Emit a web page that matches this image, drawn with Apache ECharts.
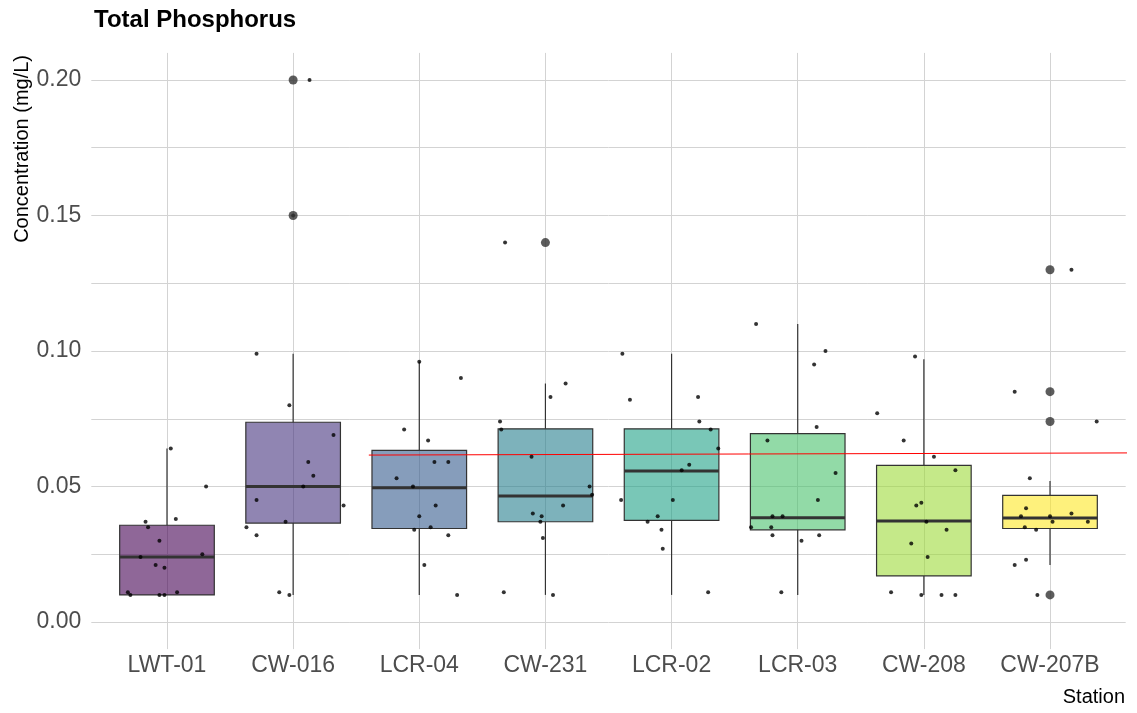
<!DOCTYPE html>
<html>
<head>
<meta charset="utf-8">
<script src="https://cdn.jsdelivr.net/npm/echarts@6/dist/echarts.min.js"></script>
<style>
  html, body { margin: 0; padding: 0; background: #fff; }
  #chart { width: 1137px; height: 713px; }
</style>
</head>
<body>
<div id="chart"></div>
<script>
// stations on the x axis
const stations = ["LWT-01", "CW-016", "LCR-04", "CW-231", "LCR-02", "LCR-03", "CW-208", "CW-207B"];

// box statistics (mg/L)
const boxMin = [0.010, 0.010, 0.010, 0.010, 0.010, 0.010, 0.010, 0.021];
const boxQ1 = [0.010, 0.0365, 0.0345, 0.037, 0.0375, 0.034, 0.017, 0.0345];
const boxMedian = [0.024, 0.050, 0.0495, 0.0465, 0.0557, 0.0385, 0.0373, 0.0384];
const boxQ3 = [0.0357, 0.0737, 0.0633, 0.0713, 0.0713, 0.0695, 0.0578, 0.0467];
const boxMax = [0.064, 0.099, 0.096, 0.088, 0.099, 0.110, 0.097, 0.052];

// outliers: station index and value
const outlierStation = [1, 1, 3, 7, 7, 7, 7];
const outlierValue = [0.20, 0.15, 0.14, 0.13, 0.085, 0.074, 0.010];

// jittered observations per station: [horizontal jitter, value]
const ptsLWT01 = [[0.03, 0.064], [0.31, 0.050], [0.07, 0.038], [-0.17, 0.037], [-0.15, 0.035], [-0.06, 0.030], [-0.21, 0.024], [0.28, 0.025], [-0.09, 0.021], [-0.02, 0.020], [-0.31, 0.011], [-0.29, 0.010], [-0.06, 0.010], [-0.02, 0.010], [0.08, 0.011]];
const ptsCW016 = [[0.13, 0.200], [0.0, 0.150], [-0.29, 0.099], [-0.03, 0.080], [0.32, 0.069], [0.12, 0.059], [0.16, 0.054], [0.08, 0.050], [-0.29, 0.045], [0.40, 0.043], [-0.06, 0.037], [-0.37, 0.035], [-0.29, 0.032], [-0.11, 0.011], [-0.03, 0.010]];
const ptsLCR04 = [[0.0, 0.096], [0.33, 0.090], [-0.12, 0.071], [0.07, 0.067], [0.12, 0.059], [0.23, 0.059], [-0.18, 0.053], [-0.05, 0.050], [0.13, 0.043], [0.0, 0.039], [0.09, 0.035], [-0.04, 0.034], [0.23, 0.032], [0.04, 0.021], [0.30, 0.010]];
const ptsCW231 = [[-0.32, 0.140], [0.16, 0.088], [0.04, 0.083], [-0.36, 0.074], [-0.35, 0.071], [-0.11, 0.061], [0.35, 0.050], [0.37, 0.047], [0.14, 0.043], [-0.10, 0.040], [-0.03, 0.039], [-0.04, 0.037], [-0.02, 0.031], [-0.33, 0.011], [0.06, 0.010]];
const ptsLCR02 = [[-0.39, 0.099], [-0.33, 0.082], [0.21, 0.083], [0.22, 0.074], [0.31, 0.071], [0.37, 0.064], [0.14, 0.058], [0.08, 0.056], [-0.40, 0.045], [0.01, 0.045], [-0.11, 0.039], [-0.19, 0.037], [-0.08, 0.034], [-0.07, 0.027], [0.29, 0.011]];
const ptsLCR03 = [[-0.33, 0.110], [0.22, 0.100], [0.13, 0.095], [0.15, 0.072], [-0.24, 0.067], [0.30, 0.055], [0.16, 0.045], [-0.20, 0.039], [-0.12, 0.039], [-0.37, 0.035], [-0.21, 0.035], [-0.20, 0.032], [0.17, 0.032], [0.03, 0.030], [-0.13, 0.011]];
const ptsCW208 = [[-0.37, 0.077], [-0.07, 0.098], [-0.16, 0.067], [0.08, 0.061], [0.25, 0.056], [-0.06, 0.043], [-0.02, 0.044], [0.02, 0.037], [0.18, 0.034], [-0.10, 0.029], [0.03, 0.024], [-0.26, 0.011], [-0.02, 0.010], [0.14, 0.010], [0.25, 0.010]];
const ptsCW207B = [[0.17, 0.130], [-0.28, 0.085], [0.37, 0.074], [-0.16, 0.053], [-0.19, 0.042], [-0.23, 0.039], [0.0, 0.039], [0.17, 0.040], [-0.20, 0.035], [-0.11, 0.034], [0.02, 0.037], [0.30, 0.037], [-0.28, 0.021], [-0.19, 0.023], [-0.10, 0.010]];
const jitterPoints = [ptsLWT01, ptsCW016, ptsLCR04, ptsCW231, ptsLCR02, ptsLCR03, ptsCW208, ptsCW207B];

// red reference line (x in station units, y in mg/L)
const refLineX = [1.6, 7.69];
const refLineY = [0.0616, 0.0624];

// axis breaks
const yMajor = [0, 0.05, 0.10, 0.15, 0.20];
const yGrid = [0, 0.025, 0.05, 0.075, 0.10, 0.125, 0.15, 0.175, 0.20];

const viridis = ["#440154", "#46337E", "#365C8D", "#277F8E", "#1FA187", "#4AC16D", "#9FDA3A", "#FDE725"];
const gridColor = "#d3d3d3";
const font = "Liberation Sans";

const boxData = stations.map((s, i) => [i, boxMin[i], boxQ1[i], boxMedian[i], boxQ3[i], boxMax[i]]);
const outlierData = outlierStation.map((s, i) => [s, outlierValue[i]]);
const jitterData = [];
jitterPoints.forEach((pts, i) => {
	pts.forEach((p) => jitterData.push([i + p[0], p[1]]));
});
const refData = refLineX.map((x, i) => [x, refLineY[i]]);

const chart = echarts.init(document.getElementById("chart"), null, { renderer: "canvas" });

chart.setOption({
	animation: false,
	backgroundColor: "#fff",
	title: {
		text: "Total Phosphorus",
		left: 89,
		top: 3,
		textStyle: { fontFamily: font, fontSize: 24, fontWeight: "bold", color: "#000" },
	},
	grid: { left: 91.3, right: 11.3, top: 52.9, bottom: 63.9, containLabel: false },
	xAxis: {
		type: "value",
		min: -0.6,
		max: 7.6,
		axisLine: { show: false },
		axisTick: { show: false, customValues: [0, 1, 2, 3, 4, 5, 6, 7] },
		axisLabel: {
			customValues: [0, 1, 2, 3, 4, 5, 6, 7],
			formatter: (v) => stations[Math.round(v)],
			fontFamily: font,
			fontSize: 23,
			color: "#4d4d4d",
			margin: 5,
		},
		splitLine: { show: true, lineStyle: { color: gridColor, width: 1 } },
	},
	yAxis: {
		type: "value",
		min: -0.01,
		max: 0.21,
		axisLine: { show: false },
		axisTick: { show: true, length: 5, customValues: yGrid, lineStyle: { color: gridColor } },
		axisLabel: {
			customValues: yMajor,
			formatter: (v) => v.toFixed(2),
			fontFamily: font,
			fontSize: 23,
			color: "#4d4d4d",
			margin: 10,
		},
		splitLine: { show: true, lineStyle: { color: gridColor, width: 1 } },
	},
	graphic: [
		{
			type: "text",
			x: 22,
			y: 55,
			rotation: Math.PI / 2,
			style: {
				text: "Concentration (mg/L)",
				fill: "#000",
				font: "20px '" + font + "'",
				align: "right",
				verticalAlign: "middle",
			},
		},
		{
			type: "text",
			x: 1125,
			y: 697,
			style: {
				text: "Station",
				fill: "#000",
				font: "20px '" + font + "'",
				align: "right",
				verticalAlign: "middle",
			},
		},
	],
	series: [
		{
			type: "custom",
			name: "boxes",
			data: boxData,
			encode: { x: 0, y: [1, 2, 3, 4, 5] },
			renderItem: (params, api) => {
				const x = api.value(0);
				const half = api.size([0.75, 0])[0] / 2;
				const pMin = api.coord([x, api.value(1)]);
				const pQ1 = api.coord([x, api.value(2)]);
				const pMed = api.coord([x, api.value(3)]);
				const pQ3 = api.coord([x, api.value(4)]);
				const pMax = api.coord([x, api.value(5)]);
				const stroke = "#333333";
				return {
					type: "group",
					children: [
						{
							type: "line",
							shape: { x1: pMin[0], y1: pMin[1], x2: pQ1[0], y2: pQ1[1] },
							style: { stroke, lineWidth: 1.2 },
						},
						{
							type: "line",
							shape: { x1: pQ3[0], y1: pQ3[1], x2: pMax[0], y2: pMax[1] },
							style: { stroke, lineWidth: 1.2 },
						},
						{
							type: "rect",
							shape: { x: pQ3[0] - half, y: pQ3[1], width: half * 2, height: pQ1[1] - pQ3[1] },
							style: {
								fill: echarts.color.modifyAlpha(viridis[params.dataIndex], 0.6),
								stroke,
								lineWidth: 1.2,
							},
						},
						{
							type: "line",
							shape: { x1: pMed[0] - half, y1: pMed[1], x2: pMed[0] + half, y2: pMed[1] },
							style: { stroke, lineWidth: 3 },
						},
					],
				};
			},
			z: 2,
		},
		{
			type: "line",
			name: "reference",
			data: refData,
			clip: false,
			symbol: "none",
			lineStyle: { color: "#ff0000", width: 1 },
			z: 3,
		},
		{
			type: "scatter",
			name: "observations",
			data: jitterData,
			symbol: "circle",
			symbolSize: 4,
			itemStyle: { color: "#000000" },
			z: 4,
		},
		{
			type: "scatter",
			name: "outliers",
			data: outlierData,
			symbol: "circle",
			symbolSize: 9,
			itemStyle: { color: "#333333" },
			z: 5,
		},
	],
});
</script>
</body>
</html>
